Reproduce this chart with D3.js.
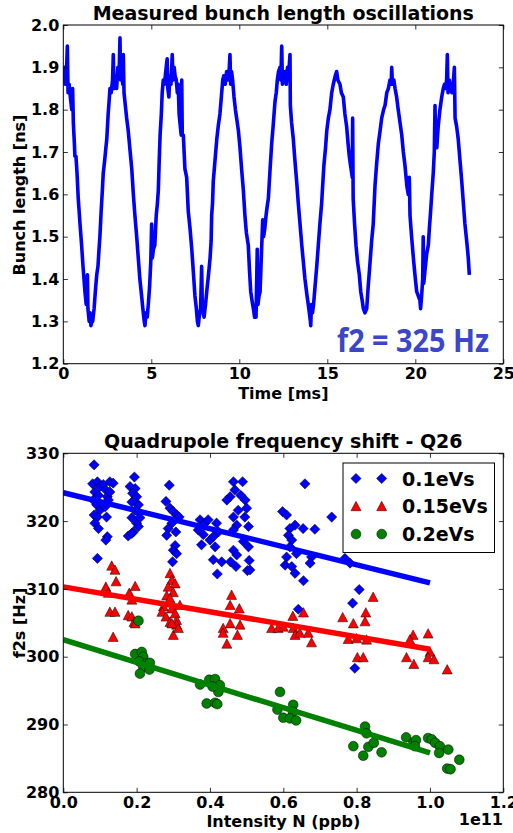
<!DOCTYPE html>
<html>
<head>
<meta charset="utf-8">
<script src="https://cdn.jsdelivr.net/npm/d3@7"></script>
<style>
  body { margin: 0; background: #fff; }
  svg { display: block; font-family: "DejaVu Sans", sans-serif; font-weight: bold; }
</style>
</head>
<body>
<div id="chart"></div>
<script>
// top panel: measured bunch length trace, [time ms, length ns]
const bunchTrace = [
  [0.00,1.88],[0.05,1.90],[0.10,1.86],[0.18,1.89],[0.23,1.95],[0.27,1.84],[0.33,1.86],[0.40,1.83],[0.48,1.80],[0.53,1.85],
  [0.57,1.77],[0.63,1.72],[0.66,1.69],[0.72,1.69],[0.78,1.65],[0.85,1.59],[0.95,1.53],[1.04,1.48],[1.12,1.43],[1.23,1.37],
  [1.30,1.34],[1.37,1.41],[1.40,1.33],[1.47,1.30],[1.52,1.32],[1.57,1.29],[1.63,1.30],[1.67,1.30],[1.75,1.33],[1.82,1.37],
  [1.90,1.41],[1.97,1.43],[2.03,1.47],[2.08,1.50],[2.15,1.56],[2.22,1.61],[2.27,1.65],[2.35,1.68],[2.42,1.71],[2.47,1.73],
  [2.55,1.79],[2.62,1.83],[2.65,1.85],[2.72,1.84],[2.80,1.87],[2.84,1.93],[2.88,1.85],[2.95,1.88],[3.03,1.85],[3.10,1.90],
  [3.17,1.88],[3.22,1.97],[3.26,1.87],[3.32,1.89],[3.38,1.86],[3.41,1.93],[3.45,1.84],[3.50,1.82],[3.60,1.78],[3.69,1.75],
  [3.80,1.70],[3.89,1.66],[3.98,1.60],[4.07,1.55],[4.17,1.50],[4.26,1.45],[4.35,1.40],[4.45,1.36],[4.52,1.33],[4.60,1.30],
  [4.64,1.29],[4.70,1.32],[4.77,1.31],[4.83,1.34],[4.90,1.38],[4.97,1.44],[5.02,1.53],[5.06,1.45],[5.12,1.47],[5.20,1.48],
  [5.28,1.55],[5.35,1.58],[5.40,1.61],[5.45,1.68],[5.50,1.74],[5.57,1.79],[5.62,1.84],[5.68,1.87],[5.75,1.86],[5.82,1.89],
  [5.90,1.92],[5.94,1.85],[6.00,1.83],[6.05,1.88],[6.12,1.86],[6.19,1.93],[6.23,1.87],[6.30,1.90],[6.35,1.88],[6.42,1.87],
  [6.48,1.84],[6.53,1.86],[6.58,1.79],[6.65,1.76],[6.70,1.74],[6.73,1.87],[6.76,1.74],[6.82,1.74],[6.91,1.66],[7.01,1.64],
  [7.10,1.56],[7.20,1.52],[7.30,1.47],[7.40,1.41],[7.48,1.36],[7.56,1.33],[7.62,1.30],[7.67,1.29],[7.72,1.31],[7.80,1.33],
  [7.86,1.43],[7.90,1.33],[7.96,1.32],[8.00,1.31],[8.08,1.34],[8.15,1.37],[8.25,1.41],[8.34,1.45],[8.40,1.49],[8.43,1.55],
  [8.48,1.58],[8.52,1.63],[8.62,1.68],[8.72,1.73],[8.80,1.76],[8.90,1.79],[8.98,1.83],[9.06,1.87],[9.12,1.88],[9.20,1.86],
  [9.28,1.89],[9.35,1.87],[9.42,1.89],[9.47,1.93],[9.51,1.86],[9.56,1.89],[9.62,1.87],[9.70,1.83],[9.78,1.80],[9.85,1.78],
  [9.95,1.75],[10.04,1.71],[10.13,1.66],[10.23,1.61],[10.32,1.55],[10.40,1.51],[10.51,1.48],[10.58,1.42],[10.65,1.37],[10.72,1.35],
  [10.80,1.33],[10.87,1.31],[10.95,1.31],[11.02,1.47],[11.06,1.34],[11.12,1.36],[11.18,1.37],[11.25,1.45],[11.33,1.54],[11.38,1.50],
  [11.45,1.52],[11.52,1.55],[11.58,1.57],[11.65,1.59],[11.75,1.66],[11.84,1.72],[11.92,1.76],[12.03,1.82],[12.10,1.84],[12.16,1.87],
  [12.23,1.89],[12.31,1.90],[12.36,1.87],[12.41,1.95],[12.45,1.86],[12.52,1.87],[12.60,1.89],[12.67,1.86],[12.74,1.90],[12.80,1.88],
  [12.88,1.93],[12.90,1.81],[12.97,1.77],[13.07,1.73],[13.16,1.68],[13.26,1.63],[13.35,1.58],[13.45,1.53],[13.55,1.48],[13.64,1.44],
  [13.73,1.40],[13.85,1.36],[13.92,1.34],[13.98,1.32],[14.04,1.30],[14.06,1.29],[14.10,1.34],[14.16,1.32],[14.22,1.34],[14.30,1.38],
  [14.40,1.43],[14.49,1.48],[14.58,1.53],[14.68,1.58],[14.75,1.63],[14.81,1.67],[14.90,1.71],[14.97,1.75],[15.06,1.78],[15.15,1.80],
  [15.25,1.84],[15.34,1.86],[15.45,1.88],[15.53,1.89],[15.60,1.87],[15.72,1.86],[15.80,1.84],[15.91,1.83],[16.00,1.79],[16.10,1.76],
  [16.18,1.72],[16.25,1.69],[16.35,1.66],[16.42,1.64],[16.44,1.78],[16.47,1.59],[16.55,1.53],[16.63,1.48],[16.72,1.44],[16.82,1.41],
  [16.90,1.37],[16.98,1.35],[17.05,1.33],[17.14,1.32],[17.24,1.33],[17.32,1.38],[17.43,1.44],[17.52,1.49],[17.61,1.53],[17.71,1.62],
  [17.80,1.67],[17.90,1.72],[18.00,1.75],[18.09,1.78],[18.20,1.80],[18.28,1.81],[18.38,1.84],[18.47,1.85],[18.56,1.87],[18.63,1.86],
  [18.66,1.90],[18.70,1.86],[18.78,1.87],[18.85,1.85],[18.94,1.83],[19.03,1.80],[19.13,1.77],[19.23,1.74],[19.32,1.70],[19.41,1.67],
  [19.52,1.62],[19.60,1.60],[19.66,1.64],[19.70,1.55],[19.79,1.50],[19.89,1.45],[19.98,1.41],[20.08,1.37],[20.17,1.36],[20.26,1.35],
  [20.30,1.33],[20.36,1.36],[20.42,1.40],[20.45,1.50],[20.48,1.39],[20.55,1.42],[20.65,1.46],[20.74,1.48],[20.80,1.52],[20.87,1.56],
  [20.95,1.61],[21.02,1.65],[21.08,1.70],[21.12,1.81],[21.16,1.71],[21.22,1.71],[21.30,1.76],[21.40,1.80],[21.50,1.83],[21.59,1.85],
  [21.66,1.86],[21.72,1.85],[21.78,1.87],[21.82,1.93],[21.86,1.84],[21.93,1.87],[22.00,1.85],[22.08,1.84],[22.15,1.86],[22.22,1.90],
  [22.26,1.78],[22.35,1.76],[22.44,1.73],[22.54,1.68],[22.64,1.63],[22.73,1.58],[22.82,1.53],[22.92,1.49],[23.01,1.45],[23.07,1.41]
];
const timeTicks = [0, 5, 10, 15, 20, 25];
const lengthTicks = [1.2, 1.3, 1.4, 1.5, 1.6, 1.7, 1.8, 1.9, 2.0];

// bottom panel: measured f2s vs intensity, [N / 1e11, f2s Hz]
const pts01 = [
  [0.084,328.3],[0.080,325.5],[0.093,325.8],[0.100,325.1],[0.086,324.3],[0.096,323.8],[0.082,323.1],[0.091,322.4],[0.100,321.6],[0.084,320.9],
  [0.093,320.6],[0.086,319.7],[0.096,318.9],[0.109,325.4],[0.116,324.6],[0.120,323.6],[0.127,325.8],[0.136,325.6],[0.127,324.3],[0.123,323.1],
  [0.114,322.1],[0.118,320.6],[0.120,317.7],[0.116,317.2],[0.093,314.5],
  [0.194,326.5],[0.182,325.1],[0.196,324.8],[0.189,324.1],[0.200,323.6],[0.187,322.8],[0.205,322.4],[0.196,321.6],[0.207,321.2],[0.187,320.5],
  [0.200,319.7],[0.205,319.2],[0.191,318.4],[0.177,317.8],[0.187,318.2],[0.209,320.5],
  [0.289,325.3],[0.280,322.9],[0.291,321.9],[0.300,321.4],[0.309,320.9],[0.296,319.7],[0.286,318.9],[0.307,318.4],[0.282,317.9],[0.305,316.4],
  [0.300,315.7],[0.309,315.2],[0.298,314.0],[0.316,320.6],
  [0.373,320.2],[0.386,319.7],[0.395,320.2],[0.368,318.7],[0.382,318.0],[0.400,317.2],[0.377,316.5],[0.418,319.7],[0.423,318.4],[0.409,317.7],
  [0.414,316.2],[0.409,314.3],[0.432,314.0],[0.420,312.2],
  [0.464,325.8],[0.489,325.8],[0.468,324.6],[0.455,323.6],[0.446,323.1],[0.484,323.8],[0.496,323.1],[0.477,321.6],[0.500,321.9],[0.464,320.6],
  [0.495,320.6],[0.473,319.4],[0.464,318.7],[0.505,319.2],[0.491,317.0],[0.505,316.2],[0.464,315.7],[0.473,315.0],[0.456,314.0],[0.471,313.3],
  [0.507,314.2],[0.502,312.7],[0.509,312.8],
  [0.659,325.5],[0.598,321.4],[0.609,320.9],[0.732,320.6],[0.632,319.4],[0.618,318.9],[0.654,318.9],[0.686,318.8],[0.614,317.9],[0.623,317.2],
  [0.618,316.2],[0.636,315.2],[0.609,314.7],[0.677,314.7],[0.673,313.8],[0.605,313.5],[0.623,313.3],[0.632,312.3],[0.655,311.2],[0.641,307.0],
  [0.768,314.5],[0.782,313.8],[0.807,309.9],[0.789,307.9],[0.795,298.3]
];
const pts015 = [
  [0.132,313.4],[0.141,312.8],[0.144,311.1],[0.116,310.3],[0.123,309.4],[0.127,306.6],[0.141,306.6],[0.136,302.9],
  [0.180,309.4],[0.196,310.4],[0.187,308.4],[0.177,306.1],[0.187,305.9],[0.193,305.1],[0.196,304.9],
  [0.291,312.3],[0.296,311.3],[0.305,310.8],[0.286,310.3],[0.300,309.5],[0.282,309.0],[0.291,308.6],[0.318,307.6],[0.273,307.4],[0.296,307.1],
  [0.269,306.6],[0.305,306.4],[0.280,305.9],[0.309,305.4],[0.291,305.1],[0.309,304.7],[0.296,304.9],[0.300,303.2],[0.314,304.2],
  [0.459,309.1],[0.455,307.6],[0.480,307.1],[0.455,304.9],[0.482,304.7],[0.436,304.2],[0.436,303.5],[0.446,301.9],[0.475,303.2],
  [0.568,304.2],[0.586,304.2],[0.600,304.4],[0.626,306.0],[0.655,306.5],[0.627,304.2],[0.632,303.2],[0.645,303.5],[0.668,303.5],[0.677,302.1],
  [0.762,305.8],[0.791,304.9],[0.777,302.6],[0.823,305.2],[0.825,306.5],[0.845,308.8],[0.800,302.7],[0.827,302.5],[0.802,299.9],[0.818,299.9],
  [0.954,303.2],[0.945,302.5],[0.936,299.9],[0.956,298.9],[0.995,303.4],[1.000,300.7],[0.995,299.9],[1.011,299.6],[1.047,298.1]
];
const pts02 = [
  [0.205,305.3],[0.196,300.4],[0.214,300.7],[0.218,300.0],[0.207,299.3],[0.227,299.0],[0.236,299.1],[0.218,298.5],[0.235,298.1],[0.209,297.5],
  [0.373,295.9],[0.398,296.6],[0.414,296.7],[0.427,295.8],[0.423,294.8],[0.391,293.1],[0.414,293.2],[0.420,293.0],[0.407,295.6],
  [0.591,294.8],[0.584,292.2],[0.600,291.0],[0.627,292.9],[0.626,291.9],[0.618,290.9],[0.635,290.6],
  [0.823,289.7],[0.827,288.7],[0.791,286.8],[0.818,285.4],[0.832,286.7],[0.847,287.3],[0.868,285.9],
  [0.935,288.1],[0.955,287.3],[0.962,287.7],[0.959,286.8],[0.995,288.0],[1.005,287.8],[1.014,287.3],[1.027,286.8],[1.025,285.8],
  [1.050,286.3],[1.080,284.8],[1.047,283.5],[1.056,283.4]
];
// linear fits, f2s at N = 0 and N = 1e11
const fitN = [0, 1.0];
const fit01 = [324.2, 310.9];
const fit015 = [310.3, 301.1];
const fit02 = [302.5, 285.8];
const seriesNames = ['0.1eVs', '0.15eVs', '0.2eVs'];
const intensityTicks = [0, 0.2, 0.4, 0.6, 0.8, 1.0, 1.2];
const freqTicks = [280, 290, 300, 310, 320, 330];

const W = 513, H = 833;
const svg = d3.select('#chart').append('svg').attr('width', W).attr('height', H);

function frame(g, x, y, xTicks, yTicks, xFmt, yFmt) {
  const [x0, x1] = x.range(), [y0, y1] = y.range();
  const tl = 4.5;
  g.append('g').attr('transform', `translate(0,${y0})`)
    .call(d3.axisBottom(x).tickValues(xTicks).tickSize(-tl).tickPadding(4).tickFormat(xFmt))
    .call(a => a.select('.domain').remove());
  g.append('g').attr('transform', `translate(0,${y1})`)
    .call(d3.axisTop(x).tickValues(xTicks).tickSize(-tl).tickFormat(''))
    .call(a => a.select('.domain').remove());
  g.append('g').attr('transform', `translate(${x0},0)`)
    .call(d3.axisLeft(y).tickValues(yTicks).tickSize(-tl).tickPadding(4).tickFormat(yFmt))
    .call(a => a.select('.domain').remove());
  g.append('g').attr('transform', `translate(${x1},0)`)
    .call(d3.axisRight(y).tickValues(yTicks).tickSize(-tl).tickFormat(''))
    .call(a => a.select('.domain').remove());
  g.selectAll('.tick line').attr('stroke', '#000').attr('stroke-width', 0.8);
  g.selectAll('.tick text').attr('fill', '#000').attr('font-size', 16)
    .attr('font-family', 'DejaVu Sans').attr('font-weight', 'bold');
  g.append('rect').attr('x', x0).attr('y', y1).attr('width', x1 - x0).attr('height', y0 - y1)
    .attr('fill', 'none').attr('stroke', '#000').attr('stroke-width', 1);
}

// ---- top panel
const xT = d3.scaleLinear().domain([0, 25]).range([63.3, 503.3]);
const yT = d3.scaleLinear().domain([1.2, 2.0]).range([363.7, 25]);
const topG = svg.append('g');
topG.append('defs').append('clipPath').attr('id', 'clipT')
  .append('rect').attr('x', 63.3).attr('y', 25).attr('width', 440).attr('height', 338.7);
topG.append('path').datum(bunchTrace)
  .attr('clip-path', 'url(#clipT)')
  .attr('fill', 'none').attr('stroke', '#0000ff').attr('stroke-width', 3.6).attr('stroke-linejoin', 'round')
  .attr('d', d3.line().x(d => xT(d[0])).y(d => yT(d[1])));
frame(topG, xT, yT, timeTicks, lengthTicks, d3.format('d'), d3.format('.1f'));
topG.append('text').attr('x', 283.3).attr('y', 20).attr('text-anchor', 'middle')
  .attr('font-size', 19).text('Measured bunch length oscillations');
topG.append('text').attr('x', 283.3).attr('y', 399).attr('text-anchor', 'middle')
  .attr('font-size', 16).text('Time [ms]');
topG.append('text').attr('transform', 'translate(25,195) rotate(-90)').attr('text-anchor', 'middle')
  .attr('font-size', 16).text('Bunch length [ns]');
topG.append('text').attr('x', 337).attr('y', 351.5)
  .attr('font-family', 'Open Sans').attr('font-weight', 700).attr('font-size', 33)
  .attr('textLength', 152).attr('lengthAdjust', 'spacingAndGlyphs')
  .attr('fill', '#3c46c8').text('f2 = 325 Hz');

// ---- bottom panel
const xB = d3.scaleLinear().domain([0, 1.2]).range([63.3, 503.3]);
const yB = d3.scaleLinear().domain([280, 330]).range([792.3, 453.3]);
const botG = svg.append('g');
botG.append('defs').append('clipPath').attr('id', 'clipB')
  .append('rect').attr('x', 63.3).attr('y', 453.3).attr('width', 440).attr('height', 339);
const plotB = botG.append('g').attr('clip-path', 'url(#clipB)');

const diamond = d3.symbol(d3.symbolSquare, 52)();
const triangle = 'M0,-5L5,4.4L-5,4.4Z';
const series = [
  { pts: pts01, fit: fit01, color: '#0000ff', shape: diamond, rot: 45 },
  { pts: pts015, fit: fit015, color: '#ff0000', shape: triangle, rot: 0 },
  { pts: pts02, fit: fit02, color: '#008000', shape: null, rot: 0 }
];
const fitLine = d3.line().x(d => xB(d[0])).y(d => yB(d[1]));

series.forEach(s => {
  const g = plotB.append('g');
  if (s.shape) {
    g.selectAll('path').data(s.pts).join('path')
      .attr('d', s.shape)
      .attr('transform', d => `translate(${xB(d[0])},${yB(d[1])}) rotate(${s.rot})`)
      .attr('fill', s.color).attr('stroke', '#000').attr('stroke-width', 0.5);
  } else {
    g.selectAll('circle').data(s.pts).join('circle')
      .attr('cx', d => xB(d[0])).attr('cy', d => yB(d[1])).attr('r', 4.9)
      .attr('fill', s.color).attr('stroke', '#000').attr('stroke-width', 0.5);
  }
  g.append('path').datum(fitN.map((n, i) => [n, s.fit[i]]))
    .attr('fill', 'none').attr('stroke', s.color).attr('stroke-width', 5.5)
    .attr('d', fitLine);
});

frame(botG, xB, yB, intensityTicks, freqTicks, d3.format('.1f'), d3.format('d'));
botG.append('text').attr('x', 283.3).attr('y', 447.5).attr('text-anchor', 'middle')
  .attr('font-size', 19).text('Quadrupole frequency shift - Q26');
botG.append('text').attr('x', 283.3).attr('y', 827).attr('text-anchor', 'middle')
  .attr('font-size', 16).text('Intensity N (ppb)');
botG.append('text').attr('x', 503).attr('y', 825).attr('text-anchor', 'end')
  .attr('font-size', 16).text('1e11');
botG.append('text').attr('transform', 'translate(25,623) rotate(-90)').attr('text-anchor', 'middle')
  .attr('font-size', 16).text('f2s [Hz]');

// legend
const leg = botG.append('g');
leg.append('rect').attr('x', 343).attr('y', 463).attr('width', 151.5).attr('height', 89.5)
  .attr('fill', '#fff').attr('stroke', '#000').attr('stroke-width', 1);
series.forEach((s, i) => {
  const cy = 478.5 + i * 27.8;
  [356, 381.7].forEach(cx => {
    if (s.shape) {
      leg.append('path').attr('d', s.shape)
        .attr('transform', `translate(${cx},${cy}) rotate(${s.rot})`)
        .attr('fill', s.color).attr('stroke', '#000').attr('stroke-width', 0.5);
    } else {
      leg.append('circle').attr('cx', cx).attr('cy', cy).attr('r', 4.9)
        .attr('fill', s.color).attr('stroke', '#000').attr('stroke-width', 0.5);
    }
  });
  leg.append('text').attr('x', 402).attr('y', cy + 7).attr('font-size', 19).text(seriesNames[i]);
});
</script>
</body>
</html>
